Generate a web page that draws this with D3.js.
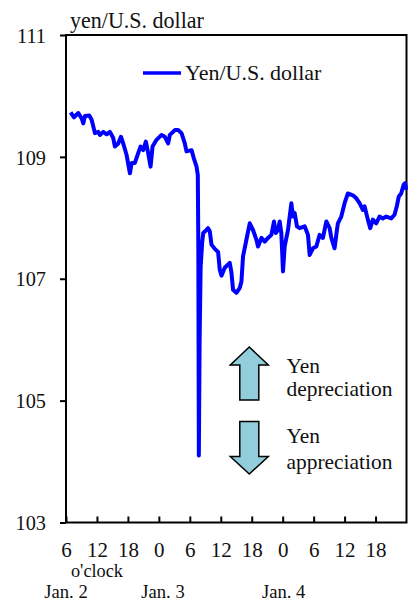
<!DOCTYPE html>
<html>
<head>
<meta charset="utf-8">
<script src="https://cdn.jsdelivr.net/npm/d3@7/dist/d3.min.js"></script>
<style>
  html, body { margin: 0; padding: 0; background: #fff; }
  svg { display: block; }
</style>
</head>
<body>
<svg id="chart" width="409" height="603"></svg>
<script>
// Hours elapsed since Jan. 2, 06:00
const hours = [0.9,1.55,2.38,3.04,3.35,3.68,4.51,4.97,5.61,6.25,6.58,7.22,7.88,8.52,9.15,9.48,10.12,10.65,11.09,11.75,12.39,12.72,13.35,13.99,14.46,14.96,15.48,15.93,16.39,16.78,17.55,18.52,19.16,19.8,20.13,21.1,21.74,22.39,23.03,23.36,24.33,24.77,25.3,25.55,25.65,25.75,25.9,26.1,26.4,26.6,27.23,27.54,27.87,28.2,28.84,29.48,29.8,30.14,30.77,31.74,32.07,32.38,33.04,33.68,34.0,34.32,34.97,35.61,36.25,36.91,37.22,37.88,38.52,39.15,39.81,40.32,40.65,41.09,41.42,41.74,42.06,42.39,43.03,43.68,43.99,44.32,44.77,45.29,46.26,46.9,47.23,47.87,48.52,49.16,49.8,50.46,51.1,51.43,52.06,52.39,52.7,53.36,54.0,54.64,55.61,56.27,56.9,57.54,57.87,58.51,58.97,59.48,60.13,60.77,61.41,62.07,63.04,63.68,64.12,64.51,64.97,65.42,65.74,65.94];
const yenPerDollar = [109.73,109.65,109.72,109.63,109.55,109.67,109.68,109.61,109.39,109.41,109.36,109.41,109.37,109.41,109.31,109.17,109.22,109.33,109.22,109.03,108.73,108.90,108.90,109.06,109.17,109.11,109.25,109.06,108.84,109.17,109.28,109.36,109.33,109.22,109.36,109.44,109.44,109.39,109.22,109.09,109.11,108.98,108.84,108.70,107.50,104.10,106.00,107.20,107.60,107.75,107.80,107.83,107.78,107.56,107.49,107.44,107.15,107.05,107.18,107.26,107.10,106.82,106.77,106.85,106.95,107.37,107.64,107.91,107.80,107.64,107.53,107.67,107.61,107.67,107.72,107.94,107.75,107.80,107.94,107.75,107.12,107.53,107.80,108.24,108.02,108.08,107.86,107.83,107.86,107.72,107.39,107.50,107.53,107.72,107.67,107.94,107.83,107.67,107.50,107.72,107.91,108.02,108.24,108.40,108.37,108.32,108.24,108.13,108.19,107.97,107.83,107.97,107.91,108.02,107.99,108.02,107.99,108.05,108.19,108.35,108.40,108.54,108.57,108.46];

const xTickHours = [0,6,12,18,24,30,36,42,48,54,60];
const xTickLabels = ["6","12","18","0","6","12","18","0","6","12","18"];
const yTicks = [103,105,107,109,111];
const dateLabels = ["Jan. 2","Jan. 3","Jan. 4"];
const dateLabelHours = [0, 18.8, 42.2];
const seriesName = "Yen/U.S. dollar";
const unitLabel = "yen/U.S. dollar";

const FONT = '"Liberation Serif", Tinos, "Times New Roman", Times, "Noto Serif", "DejaVu Serif", serif';

const svg = d3.select("#chart").attr("font-family", FONT);
const L = 66, R = 406.5, T = 35, B = 522.5;
const x = d3.scaleLinear().domain([0, 66]).range([L, R]);
const y = d3.scaleLinear().domain([103, 111]).range([B, T]);

function txt(sel, size) {
  return sel.attr("font-family", FONT).style("font-family", FONT).attr("font-size", size).style("font-size", size + "px").attr("fill", "#111");
}
// scale a text selection's font so a sample text reaches the width measured in the reference
function fit(sel, sampleNode, targetW, base) {
  const w = sampleNode.getComputedTextLength();
  let s = w > 0 ? base * targetW / w : base;
  s = Math.max(base * 0.8, Math.min(base * 1.1, s));
  sel.attr("font-size", s).style("font-size", s + "px");
}

// Frame
svg.append("rect").attr("x", L).attr("y", T).attr("width", R - L).attr("height", B - T)
  .attr("fill", "none").attr("stroke", "#000").attr("stroke-width", 2);

// Y axis
const yAxis = d3.axisLeft(y).tickValues(yTicks).tickSize(6).tickPadding(14).tickFormat(d3.format("d"));
const gy = svg.append("g").attr("transform", `translate(${L},0)`).call(yAxis).attr("font-family", FONT);
gy.select(".domain").remove();
gy.selectAll("line").attr("stroke", "#000").attr("stroke-width", 2);
const yt = txt(gy.selectAll("text"), 21).attr("dy", "0.35em");
fit(yt, yt.nodes()[0], 30.5, 21);

// X axis (ticks inward)
const xAxis = d3.axisBottom(x).tickValues(xTickHours).tickSize(-6).tickFormat((d, i) => xTickLabels[i]);
const gx = svg.append("g").attr("transform", `translate(0,${B})`).call(xAxis).attr("font-family", FONT);
gx.select(".domain").remove();
gx.selectAll("line").attr("stroke", "#000").attr("stroke-width", 2);
const xt = txt(gx.selectAll("text"), 21).attr("y", 34).attr("dy", 0);
fit(xt, xt.nodes()[1], 21, 21);

const oc = txt(svg.append("text"), 18).attr("x", x(6)).attr("y", 576.5).attr("text-anchor", "middle").text("o'clock");
fit(oc, oc.node(), 52, 18);
const dl = svg.selectAll(".date").data(dateLabels).enter().append("text")
  .call(s => txt(s, 19))
  .attr("x", (d, i) => x(dateLabelHours[i])).attr("y", 598).attr("text-anchor", "middle")
  .text(d => d);
fit(dl, dl.nodes()[0], 43.5, 19);

// Unit label
const ul = txt(svg.append("text"), 21).attr("x", 70).attr("y", 27.5).text(unitLabel);
fit(ul, ul.node(), 134, 21);

// Line
const pts = hours.map((h, i) => [h, yenPerDollar[i]]);
const line = d3.line().x(d => x(d[0])).y(d => y(d[1]));
svg.append("path").datum(pts).attr("d", line).attr("fill", "none")
  .attr("stroke", "#0000ff").attr("stroke-width", 4).attr("stroke-linejoin", "round");

// Legend
svg.append("line").attr("x1", 143).attr("x2", 181).attr("y1", 73).attr("y2", 73)
  .attr("stroke", "#0000ff").attr("stroke-width", 3.5);
const lg = txt(svg.append("text"), 21).attr("x", 185).attr("y", 80).text(seriesName);
fit(lg, lg.node(), 136.5, 21);

// Arrows
const cx = 249.3, hw = 19, sw = 9.5;
const up = [[cx, 347], [cx + hw, 365], [cx + sw, 365], [cx + sw, 400], [cx - sw, 400], [cx - sw, 365], [cx - hw, 365]];
const down = [[cx - sw, 421.5], [cx + sw, 421.5], [cx + sw, 456.5], [cx + hw, 456.5], [cx, 474], [cx - hw, 456.5], [cx - sw, 456.5]];
[up, down].forEach(p => svg.append("polygon").attr("points", p.map(q => q.join(",")).join(" "))
  .attr("fill", "#92cddc").attr("stroke", "#000").attr("stroke-width", 1.5).attr("stroke-linejoin", "miter"));

const arrowText = [["Yen", 372.5], ["depreciation", 395.5], ["Yen", 443], ["appreciation", 468.5]];
const at = svg.selectAll(".arrowtxt").data(arrowText).enter().append("text")
  .call(s => txt(s, 21)).attr("x", 286.5).attr("y", d => d[1]).text(d => d[0]);
fit(at, at.nodes()[1], 106, 21);
</script>
</body>
</html>
